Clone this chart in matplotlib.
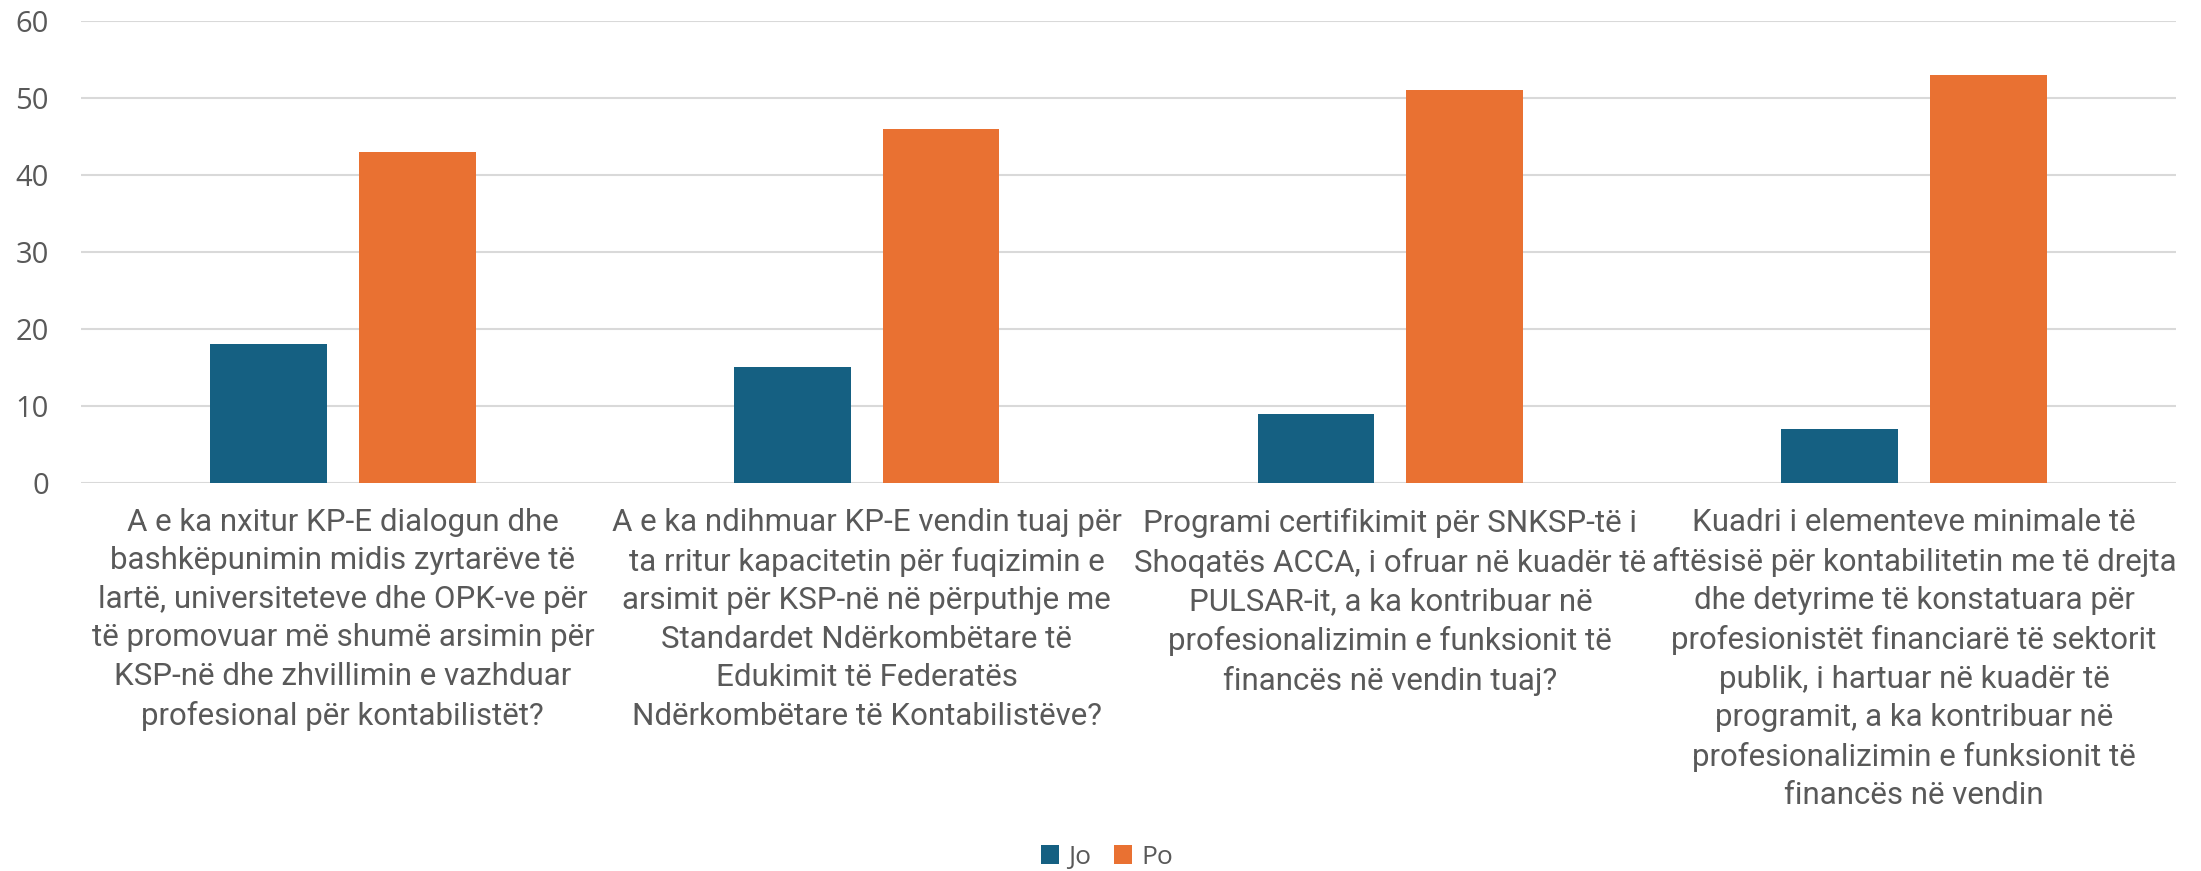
import matplotlib.pyplot as plt
import numpy as np

# Survey answers per question
questions = [
    "A e ka nxitur KP-E dialogun dhe\nbashkëpunimin midis zyrtarëve të\nlartë, universiteteve dhe OPK-ve për\ntë promovuar më shumë arsimin për\nKSP-në dhe zhvillimin e vazhduar\nprofesional për kontabilistët?",
    "A e ka ndihmuar KP-E vendin tuaj për\nta rritur kapacitetin për fuqizimin e\narsimit për KSP-në në përputhje me\nStandardet Ndërkombëtare të\nEdukimit të Federatës\nNdërkombëtare të Kontabilistëve?",
    "Programi certifikimit për SNKSP-të i\nShoqatës ACCA, i ofruar në kuadër të\nPULSAR-it, a ka kontribuar në\nprofesionalizimin e funksionit të\nfinancës në vendin tuaj?",
    "Kuadri i elementeve minimale të\naftësisë për kontabilitetin me të drejta\ndhe detyrime të konstatuara për\nprofesionistët financiarë të sektorit\npublik, i hartuar në kuadër të\nprogramit, a ka kontribuar në\nprofesionalizimin e funksionit të\nfinancës në vendin",
]
jo = [18, 15, 9, 7]
po = [43, 46, 51, 53]
yticks = [0, 10, 20, 30, 40, 50, 60]

blue = '#156082'
orange = '#E97132'
grey = '#595959'
narrow = ['Roboto', 'DejaVu Sans']
plain = ['Open Sans', 'DejaVu Sans']

fig = plt.figure(figsize=(22.01, 8.71), dpi=100)
ax = fig.add_axes([0.0368, 0.4455, 0.9518, 0.5304])

x = np.arange(len(questions))
w = 0.223
ax.bar(x - 0.142, jo, w, color=blue, label='Jo', zorder=3)
ax.bar(x + 0.142, po, w, color=orange, label='Po', zorder=3)

ax.set_xlim(-0.5, len(questions) - 0.5)
ax.set_ylim(0, 60)
ax.set_yticks(yticks)
ax.yaxis.grid(True, color='#D9D9D9', linewidth=1.5, zorder=0)
ax.axhline(0, color='#D9D9D9', linewidth=2, zorder=2)
for s in ax.spines.values():
    s.set_visible(False)

ax.tick_params(axis='y', length=0, pad=23, labelsize=21, labelcolor=grey)
for t in ax.get_yticklabels():
    t.set_family(plain)
ax.tick_params(axis='x', length=0, pad=18)
ax.set_xticks(x)
ax.set_xticklabels(questions, fontsize=22.5, color=grey, family=narrow,
                   linespacing=1.41, va='top', ha='center')

fig.legend(loc='center', bbox_to_anchor=(0.503, 0.016), ncol=2, frameon=False,
           prop={'family': plain, 'size': 19},
           labelcolor=grey, handlelength=0.7, handleheight=0.7,
           handletextpad=0.35, columnspacing=0.85)

fig.savefig('out.png', dpi=100)
